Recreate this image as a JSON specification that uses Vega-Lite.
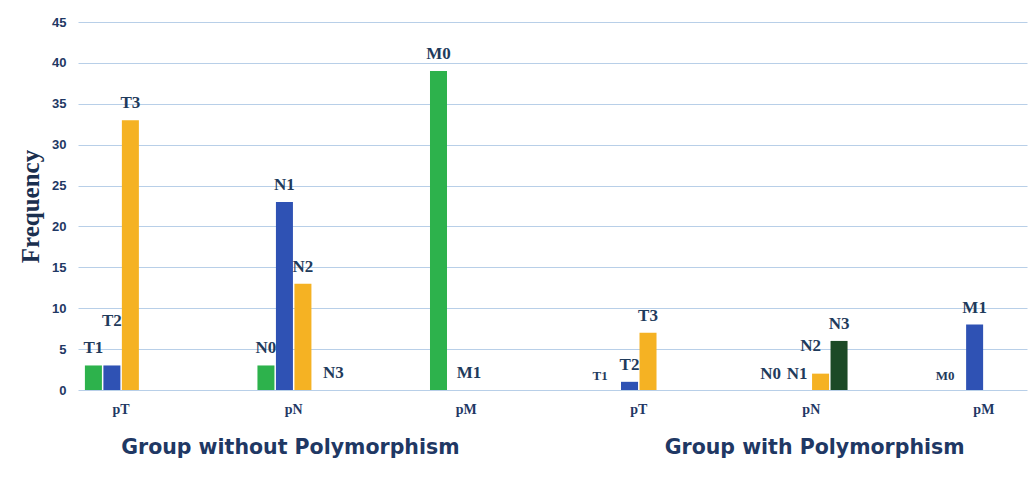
{
  "$schema": "https://vega.github.io/schema/vega-lite/v6.json",
  "width": 949,
  "height": 368,
  "autosize": "none",
  "padding": {"left": 78, "top": 22, "right": 4, "bottom": 87},
  "background": "white",
  "config": {"view": {"stroke": null}},
  "datasets": {
    "bars": [
      {"grp": "1", "cat": "1 pT", "slot": 0, "label": "T1", "value": 3},
      {"grp": "1", "cat": "1 pT", "slot": 1, "label": "T2", "value": 3},
      {"grp": "1", "cat": "1 pT", "slot": 2, "label": "T3", "value": 33},
      {"grp": "1", "cat": "1 pN", "slot": 0, "label": "N0", "value": 3},
      {"grp": "1", "cat": "1 pN", "slot": 1, "label": "N1", "value": 23},
      {"grp": "1", "cat": "1 pN", "slot": 2, "label": "N2", "value": 13},
      {"grp": "1", "cat": "1 pN", "slot": 3, "label": "N3", "value": 0},
      {"grp": "1", "cat": "1 pM", "slot": 0, "label": "M0", "value": 39},
      {"grp": "1", "cat": "1 pM", "slot": 1, "label": "M1", "value": 0},
      {"grp": "2", "cat": "2 pT", "slot": 0, "label": "T1", "value": 0},
      {"grp": "2", "cat": "2 pT", "slot": 1, "label": "T2", "value": 1},
      {"grp": "2", "cat": "2 pT", "slot": 2, "label": "T3", "value": 7},
      {"grp": "2", "cat": "2 pN", "slot": 0, "label": "N0", "value": 0},
      {"grp": "2", "cat": "2 pN", "slot": 1, "label": "N1", "value": 0},
      {"grp": "2", "cat": "2 pN", "slot": 2, "label": "N2", "value": 2},
      {"grp": "2", "cat": "2 pN", "slot": 3, "label": "N3", "value": 6},
      {"grp": "2", "cat": "2 pM", "slot": 0, "label": "M0", "value": 0},
      {"grp": "2", "cat": "2 pM", "slot": 1, "label": "M1", "value": 8}
    ],
    "groups": [
      {"group": "Group without Polymorphism"},
      {"group": "Group with Polymorphism"}
    ]
  },
  "layer": [
    {
      "data": {"name": "bars"},
      "encoding": {
        "x": {
          "field": "cat", "type": "nominal", "sort": null,
          "scale": {"type": "band", "paddingInner": 0.58, "paddingOuter": 0.04},
          "axis": {
            "title": null, "orient": "bottom", "labelAngle": 0,
            "labelExpr": "substring(datum.label, 2)",
            "domain": false, "ticks": false, "grid": false,
            "labelFont": "Liberation Serif", "labelFontWeight": "bold",
            "labelFontSize": 14, "labelColor": "#1f3864", "labelPadding": 12
          }
        },
        "xOffset": {
          "field": "slot", "type": "ordinal",
          "scale": {"domain": [0, 1, 2, 3], "paddingInner": 0.08}
        },
        "y": {
          "field": "value", "type": "quantitative",
          "scale": {"domain": [0, 45], "nice": false},
          "axis": {
            "title": "Frequency", "values": [0, 5, 10, 15, 20, 25, 30, 35, 40, 45],
            "domain": false, "ticks": false,
            "gridColor": "#b8cfe8", "gridWidth": 1,
            "labelFont": "Liberation Sans", "labelFontWeight": "bold",
            "labelFontSize": 13, "labelColor": "#1f3864", "labelPadding": 12,
            "titleFont": "Liberation Serif", "titleFontWeight": "bold",
            "titleFontSize": 25, "titleColor": "#1a2f4f", "titlePadding": 8
          }
        }
      },
      "layer": [
        {
          "mark": {"type": "bar"},
          "encoding": {
            "color": {
              "field": "slot", "type": "ordinal", "legend": null,
              "scale": {"domain": [0, 1, 2, 3], "range": ["#2db24c", "#2f52b4", "#f5b223", "#1c4a26"]}
            }
          }
        },
        {
          "transform": [{"filter": "indexof(['1T2','1N3','1M1','2T1','2N0','2N1','2N2','2M0'], datum.grp + datum.label) < 0"}],
          "mark": {"type": "text", "baseline": "bottom", "dy": -8, "font": "Liberation Serif", "fontWeight": "bold", "fontSize": 17, "fill": "#1f3b5c"},
          "encoding": {"text": {"field": "label"}}
        },
        {
          "transform": [{"filter": "datum.grp + datum.label == '1T2'"}],
          "mark": {"type": "text", "baseline": "bottom", "dy": -35, "font": "Liberation Serif", "fontWeight": "bold", "fontSize": 17, "fill": "#1f3b5c"},
          "encoding": {"text": {"field": "label"}}
        },
        {
          "transform": [{"filter": "datum.grp + datum.label == '1N3' || datum.grp + datum.label == '1M1'"}],
          "mark": {"type": "text", "baseline": "bottom", "dy": -8, "dx": 12, "font": "Liberation Serif", "fontWeight": "bold", "fontSize": 17, "fill": "#1f3b5c"},
          "encoding": {"text": {"field": "label"}}
        },
        {
          "transform": [{"filter": "datum.grp + datum.label == '2N0'"}],
          "mark": {"type": "text", "baseline": "bottom", "dy": -7, "dx": -13, "font": "Liberation Serif", "fontWeight": "bold", "fontSize": 17, "fill": "#1f3b5c"},
          "encoding": {"text": {"field": "label"}}
        },
        {
          "transform": [{"filter": "datum.grp + datum.label == '2N1'"}],
          "mark": {"type": "text", "baseline": "bottom", "dy": -7, "dx": -5, "font": "Liberation Serif", "fontWeight": "bold", "fontSize": 17, "fill": "#1f3b5c"},
          "encoding": {"text": {"field": "label"}}
        },
        {
          "transform": [{"filter": "datum.grp + datum.label == '2N2'"}],
          "mark": {"type": "text", "baseline": "bottom", "dy": -19, "dx": -10, "font": "Liberation Serif", "fontWeight": "bold", "fontSize": 17, "fill": "#1f3b5c"},
          "encoding": {"text": {"field": "label"}}
        },
        {
          "transform": [{"filter": "datum.grp + datum.label == '2T1' || datum.grp + datum.label == '2M0'"}],
          "mark": {"type": "text", "baseline": "bottom", "dy": -7, "dx": -11, "font": "Liberation Serif", "fontWeight": "bold", "fontSize": 13, "fill": "#1f3b5c"},
          "encoding": {"text": {"field": "label"}}
        }
      ]
    },
    {
      "data": {"name": "groups"},
      "mark": {"type": "text", "opacity": 0},
      "encoding": {
        "x": {
          "field": "group", "type": "nominal", "sort": null,
          "scale": {"type": "band", "paddingInner": 0.19, "paddingOuter": 0},
          "axis": {
            "title": null, "orient": "bottom", "labelAngle": 0,
            "domain": false, "ticks": false, "grid": false,
            "labelFont": "DejaVu Sans", "labelFontWeight": "bold",
            "labelFontSize": 20.5, "labelColor": "#1f3864", "labelPadding": 47,
            "labelLimit": 0
          }
        },
        "text": {"value": ""}
      }
    }
  ],
  "resolve": {"scale": {"x": "independent"}, "axis": {"x": "independent"}}
}
